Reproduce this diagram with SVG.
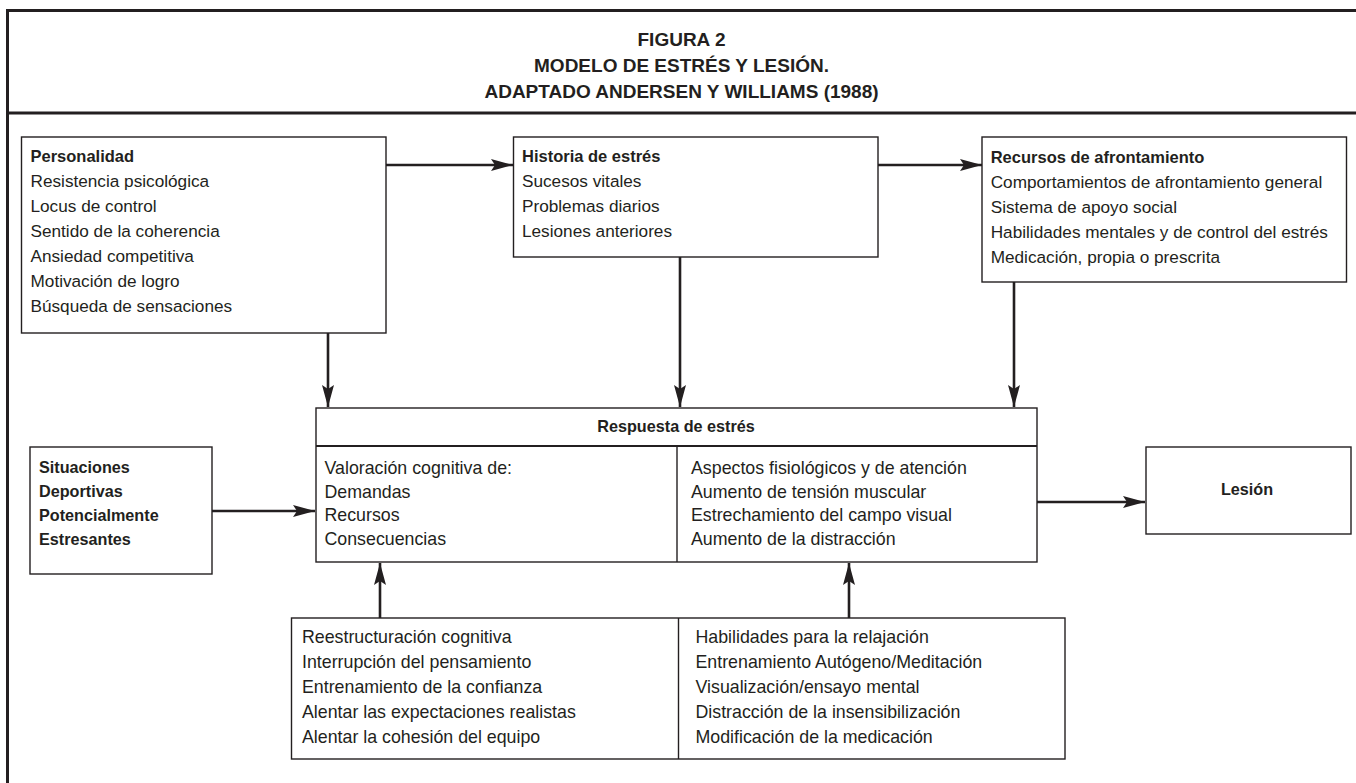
<svg xmlns="http://www.w3.org/2000/svg" width="1356" height="783" viewBox="0 0 1356 783">
<defs>
<style>
.frame{fill:none;stroke:#231f20;stroke-width:3}
.box{fill:#fff;stroke:#231f20;stroke-width:1.4}
.div{stroke:#231f20;stroke-width:1.4}
.con{fill:none;stroke:#231f20;stroke-width:2.6}
.t{font-family:"Liberation Sans",Arial,sans-serif;fill:#231f20}
.title{font-size:19px;font-weight:bold;text-anchor:middle}
.top{font-size:17.2px}
.topb{font-size:16.5px;font-weight:bold}
.mid{font-size:17.8px}
.midb{font-size:16.2px;font-weight:bold}
</style>
<marker id="ah" viewBox="0 0 22 12" refX="22" refY="6" markerWidth="22" markerHeight="12" markerUnits="userSpaceOnUse" orient="auto">
<path d="M0,0 L22,6 L0,12 L4,6 Z" fill="#231f20"/>
</marker>
</defs>
<rect width="1356" height="783" fill="#fff"/>
<g id="frame">
<path class="frame" d="M1356,10.5 H7.5 V783"/>
<line class="frame" x1="7.5" y1="113" x2="1356" y2="113"/>
<text class="t title" x="681.5" y="46">FIGURA 2</text>
<text class="t title" x="681.5" y="72">MODELO DE ESTRÉS Y LESIÓN.</text>
<text class="t title" x="681.5" y="98">ADAPTADO ANDERSEN Y WILLIAMS (1988)</text>
</g>
<g id="connectors">
<line class="con" x1="386" y1="165" x2="513" y2="165" marker-end="url(#ah)"/>
<line class="con" x1="878" y1="165" x2="982" y2="165" marker-end="url(#ah)"/>
<line class="con" x1="328" y1="333" x2="328" y2="407" marker-end="url(#ah)"/>
<line class="con" x1="680" y1="257" x2="680" y2="407" marker-end="url(#ah)"/>
<line class="con" x1="1014" y1="282" x2="1014" y2="407" marker-end="url(#ah)"/>
<line class="con" x1="212" y1="511" x2="315" y2="511" marker-end="url(#ah)"/>
<line class="con" x1="1037" y1="502" x2="1145" y2="502" marker-end="url(#ah)"/>
<line class="con" x1="380" y1="618" x2="380" y2="563" marker-end="url(#ah)"/>
<line class="con" x1="849" y1="618" x2="849" y2="563" marker-end="url(#ah)"/>
</g>
<g id="personalidad">
<rect class="box" x="21.5" y="137" width="364.5" height="196"/>
<text class="t topb" x="30.5" y="162">Personalidad</text>
<text class="t top" x="30.5" y="187">Resistencia psicológica</text>
<text class="t top" x="30.5" y="212">Locus de control</text>
<text class="t top" x="30.5" y="237">Sentido de la coherencia</text>
<text class="t top" x="30.5" y="262">Ansiedad competitiva</text>
<text class="t top" x="30.5" y="287">Motivación de logro</text>
<text class="t top" x="30.5" y="312">Búsqueda de sensaciones</text>
</g>
<g id="historia">
<rect class="box" x="513.5" y="137" width="364.5" height="120"/>
<text class="t topb" x="522" y="162">Historia de estrés</text>
<text class="t top" x="522" y="187">Sucesos vitales</text>
<text class="t top" x="522" y="212">Problemas diarios</text>
<text class="t top" x="522" y="237">Lesiones anteriores</text>
</g>
<g id="recursos">
<rect class="box" x="982" y="137" width="364.5" height="145"/>
<text class="t topb" x="990.7" y="163">Recursos de afrontamiento</text>
<text class="t top" x="990.7" y="188">Comportamientos de afrontamiento general</text>
<text class="t top" x="990.7" y="213">Sistema de apoyo social</text>
<text class="t top" x="990.7" y="238">Habilidades mentales y de control del estrés</text>
<text class="t top" x="990.7" y="263">Medicación, propia o prescrita</text>
</g>
<g id="situaciones">
<rect class="box" x="30" y="447" width="182" height="127"/>
<text class="t midb" x="39" y="473">Situaciones</text>
<text class="t midb" x="39" y="497">Deportivas</text>
<text class="t midb" x="39" y="521">Potencialmente</text>
<text class="t midb" x="39" y="545">Estresantes</text>
</g>
<g id="respuesta">
<rect class="box" x="316" y="408" width="721" height="154"/>
<line class="div" x1="316" y1="446" x2="1037" y2="446" style="stroke-width:2"/>
<line class="div" x1="677" y1="446" x2="677" y2="562"/>
<text class="t midb" x="676" y="432" text-anchor="middle">Respuesta de estrés</text>
<text class="t mid" x="324.5" y="474">Valoración cognitiva de:</text>
<text class="t mid" x="324.5" y="498">Demandas</text>
<text class="t mid" x="324.5" y="521">Recursos</text>
<text class="t mid" x="324.5" y="545">Consecuencias</text>
<text class="t mid" x="691" y="474">Aspectos fisiológicos y de atención</text>
<text class="t mid" x="691" y="498">Aumento de tensión muscular</text>
<text class="t mid" x="691" y="521">Estrechamiento del campo visual</text>
<text class="t mid" x="691" y="545">Aumento de la distracción</text>
</g>
<g id="lesion">
<rect class="box" x="1146" y="447" width="205" height="87"/>
<text class="t midb" x="1247" y="495" text-anchor="middle">Lesión</text>
</g>
<g id="intervenciones">
<rect class="box" x="291.5" y="618" width="773.5" height="141"/>
<line class="div" x1="678.5" y1="618" x2="678.5" y2="759"/>
<text class="t mid" x="302" y="643">Reestructuración cognitiva</text>
<text class="t mid" x="302" y="668">Interrupción del pensamiento</text>
<text class="t mid" x="302" y="693">Entrenamiento de la confianza</text>
<text class="t mid" x="302" y="718">Alentar las expectaciones realistas</text>
<text class="t mid" x="302" y="743">Alentar la cohesión del equipo</text>
<text class="t mid" x="695.5" y="643">Habilidades para la relajación</text>
<text class="t mid" x="695.5" y="668">Entrenamiento Autógeno/Meditación</text>
<text class="t mid" x="695.5" y="693">Visualización/ensayo mental</text>
<text class="t mid" x="695.5" y="718">Distracción de la insensibilización</text>
<text class="t mid" x="695.5" y="743">Modificación de la medicación</text>
</g>
</svg>
